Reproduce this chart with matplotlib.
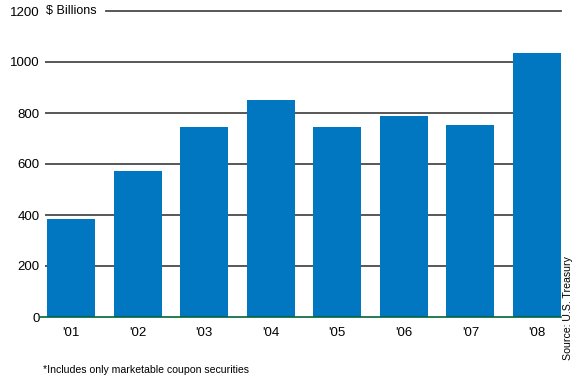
import matplotlib.pyplot as plt

years = ["'01", "'02", "'03", "'04", "'05", "'06", "'07", "'08"]
values = [384, 573, 745, 851, 745, 788, 753, 1035]
yticks = [0, 200, 400, 600, 800, 1000, 1200]

plt.rcParams['font.family'] = ['Liberation Sans Narrow', 'Liberation Sans', 'DejaVu Sans']

fig = plt.figure(figsize=(5.84, 3.82), dpi=100)
ax = fig.add_axes([45/584, 65/382, (561-45)/584, (371-65)/382])

x = range(len(years))
ax.bar(x, values, width=0.72, color='#0077c0', zorder=3)

ax.set_xlim(-0.39, 7.36)
ax.set_ylim(0, 1200)

# horizontal rules behind the bars
for t in yticks[1:-1]:
    ax.axhline(t, color='#2a2a2a', lw=1.1, zorder=1)
ax.plot([0.52, 7.36], [1200, 1200], color='#4a4a4a', lw=1.3, clip_on=False, zorder=1)
ax.plot([-0.47, 7.36], [0, 0], color='#00663a', lw=1.2, clip_on=False, zorder=4)

for s in ax.spines.values():
    s.set_visible(False)
ax.set_yticks(yticks)
ax.set_yticklabels([str(t) for t in yticks], fontsize=9.5)
ax.set_xticks(list(x))
ax.set_xticklabels(years, fontsize=9.5)
ax.tick_params(axis='y', length=0, pad=4)
ax.tick_params(axis='x', length=0, pad=7)

ax.text(-0.37, 1200, '$ Billions', fontsize=9, va='center', ha='left')
fig.text(563/584, 1 - 360/382, 'Source: U.S. Treasury', rotation=90, fontsize=7.6,
         ha='left', va='bottom')
fig.text(43/584, 1 - 370/382, '*Includes only marketable coupon securities', fontsize=7.6,
         ha='left', va='center')

fig.savefig('out.png', dpi=100)
